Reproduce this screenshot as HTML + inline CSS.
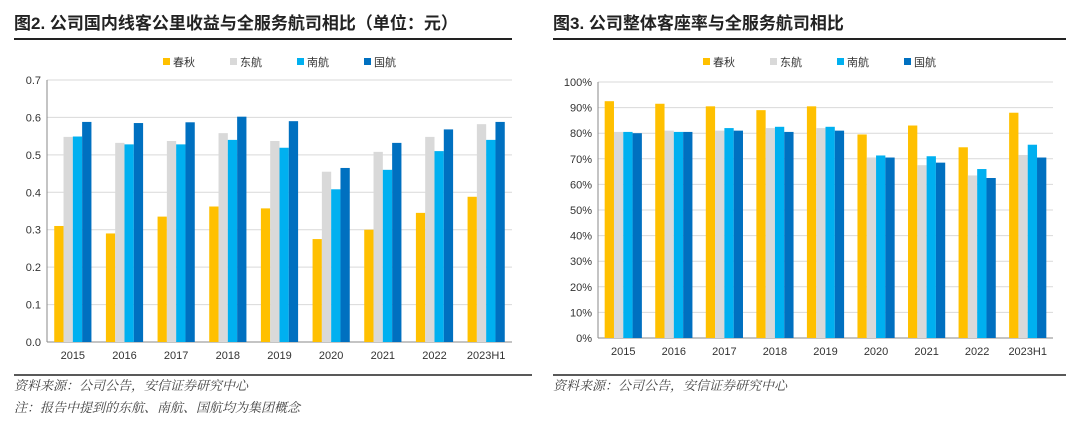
<!DOCTYPE html>
<html><head><meta charset="utf-8"><style>
body{margin:0;background:#fff;width:1080px;height:434px;overflow:hidden;font-family:"Liberation Sans","Noto Sans CJK SC",sans-serif}
svg{position:absolute;left:0;top:0}
</style></head><body>
<svg id="s" width="1080" height="434">
<text x="14" y="29" font-size="17" font-weight="bold" fill="#222" font-family="Liberation Sans,Noto Sans CJK SC,sans-serif">图2. 公司国内线客公里收益与全服务航司相比（单位：元）</text>
<line x1="14" y1="39" x2="512" y2="39" stroke="#222" stroke-width="2"/>
<text x="553" y="29" font-size="17" font-weight="bold" fill="#222" font-family="Liberation Sans,Noto Sans CJK SC,sans-serif">图3. 公司整体客座率与全服务航司相比</text>
<line x1="553" y1="39" x2="1066" y2="39" stroke="#222" stroke-width="2"/>
<line x1="14" y1="375" x2="532" y2="375" stroke="#222" stroke-width="1.5"/>
<line x1="553" y1="375" x2="1066" y2="375" stroke="#222" stroke-width="1.5"/>
<text x="14" y="390" font-size="13" font-style="italic" fill="#444" font-family="Liberation Serif,Noto Serif CJK SC,serif">资料来源：公司公告，安信证券研究中心</text>
<text x="14" y="412" font-size="13" font-style="italic" fill="#444" font-family="Liberation Serif,Noto Serif CJK SC,serif">注：报告中提到的东航、南航、国航均为集团概念</text>
<text x="553" y="390" font-size="13" font-style="italic" fill="#444" font-family="Liberation Serif,Noto Serif CJK SC,serif">资料来源：公司公告，安信证券研究中心</text>
</svg>
<script>
const categories=["2015","2016","2017","2018","2019","2020","2021","2022","2023H1"];
const seriesNames=["春秋","东航","南航","国航"];
const colors=["#FFC000","#D9D9D9","#00B0F0","#0070C0"];
const yieldChunqiu=[0.31,0.29,0.335,0.362,0.357,0.275,0.30,0.345,0.388];
const yieldDonghang=[0.548,0.532,0.537,0.558,0.537,0.455,0.508,0.548,0.582];
const yieldNanhang=[0.549,0.528,0.528,0.540,0.519,0.408,0.460,0.510,0.540];
const yieldGuohang=[0.588,0.585,0.587,0.602,0.590,0.465,0.532,0.568,0.588];
const loadChunqiu=[92.5,91.5,90.5,89,90.5,79.5,83,74.5,88];
const loadDonghang=[80.5,81,81,82,82,70.5,67.5,63.5,71.5];
const loadNanhang=[80.5,80.5,82,82.5,82.5,71.3,71,66,75.5];
const loadGuohang=[80,80.5,81,80.5,81,70.5,68.5,62.5,70.5];
const leftTicks=["0.0","0.1","0.2","0.3","0.4","0.5","0.6","0.7"];
const rightTicks=["0%","10%","20%","30%","40%","50%","60%","70%","80%","90%","100%"];
const NS="http://www.w3.org/2000/svg",svg=document.getElementById('s');
function mk(t,a,txt){const e=document.createElementNS(NS,t);for(const k in a)e.setAttribute(k,a[k]);if(txt!=null)e.textContent=txt;svg.appendChild(e);return e;}
function chart(o){
 const y=v=>o.y0-(v-o.min)/(o.max-o.min)*(o.y0-o.y1);
 const step=(o.x1-o.x0)/categories.length;
 o.ticks.forEach((t,i)=>{const v=o.min+i*(o.max-o.min)/(o.ticks.length-1);const yy=y(v);
  const g=mk('line',{x1:o.x0,x2:o.x1,y1:yy,y2:yy,stroke:i?'#d9d9d9':'#888','stroke-width':1});
  
  const l=mk('text',{x:o.x0-6,y:yy+4,'font-size':11,fill:'#333','text-anchor':'end'},t);
  });
 const ax=mk('line',{x1:o.x0,x2:o.x0,y1:o.y1,y2:o.y0,stroke:'#888'});
 
 const bw=9.3;
 categories.forEach((c,i)=>{const cx=o.x0+step*(i+0.5);
  o.series.forEach((s,j)=>{const v=s[i];const bx=cx-2*bw+j*bw;
   const r=mk('rect',{x:bx,y:y(v),width:bw,height:o.y0-y(v),fill:colors[j]});
   });
  const t=mk('text',{x:cx,y:o.y0+17,'font-size':11,fill:'#333','text-anchor':'middle'},c);
  });
 seriesNames.forEach((n,j)=>{const lx=o.lx+j*67;
  const r=mk('rect',{x:lx,y:58,width:7,height:7,fill:colors[j]});
  
  const t=mk('text',{x:lx+10,y:66,'font-size':11,fill:'#333'},n);
  });
}
chart({p:'left',x0:47,x1:512,y0:342,y1:80,min:0,max:0.7,ticks:leftTicks,series:[yieldChunqiu,yieldDonghang,yieldNanhang,yieldGuohang],lx:163});
chart({p:'right',x0:598,x1:1053,y0:338,y1:82,min:0,max:100,ticks:rightTicks,series:[loadChunqiu,loadDonghang,loadNanhang,loadGuohang],lx:703});
</script>
</body></html>
